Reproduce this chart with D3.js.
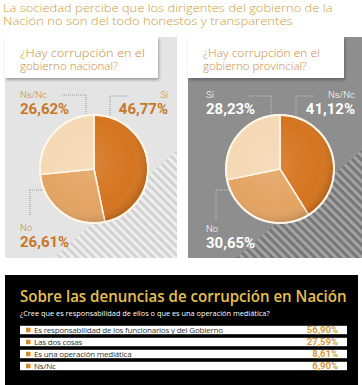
<!DOCTYPE html>
<html lang="es">
<head>
  <meta charset="UTF-8">
  <title>Corrupción en el gobierno</title>
  <script src="https://d3js.org/d3.v7.min.js"></script>
  <style>
    body { margin: 0; background: #fff; }
    text { font-family: "Open Sans", sans-serif; }
  </style>
</head>
<body>
  <svg width="362" height="385"></svg>

  <script>
    // Datos
    const nacionalCats = ["Sí", "No", "Ns/Nc"];
    const nacionalVals = [46.77, 26.61, 26.62];
    const provincialCats = ["Ns/Nc", "No", "Sí"];
    const provincialVals = [41.12, 30.65, 28.23];

    const denunciaCats = [
      "Es responsabilidad de los funcionarios y del Gobierno",
      "Las dos cosas",
      "Es una operación mediática",
      "Ns/Nc"
    ];
    const denunciaVals = [56.90, 27.59, 8.61, 6.90];

    const locale = d3.formatLocale({ decimal: ",", thousands: ".", grouping: [3], currency: ["", "€"] });
    const fmt = v => locale.format(".2f")(v) + "%";

    const sliceColors = ["#d5741f", "#e3a462", "#f5d8b4"];

    const svg = d3.select("svg");
    const defs = svg.append("defs");

    // texto ajustado a un ancho dado (escala horizontal)
    function fitText(parent, x, y, width, txt) {
      const t = parent.append("text").text(txt);
      const w = t.node().getComputedTextLength();
      t.attr("transform", `translate(${x},${y}) scale(${width / w},1)`);
      return t;
    }

    // encabezado
    const head = svg.append("g").attr("fill", "#c99c42")
        .style("font-family", "Lato, sans-serif").style("font-weight", 300).style("font-size", "10.5px");
    fitText(head, 3, 12, 330, "La sociedad percibe que los dirigentes del gobierno de la");
    fitText(head, 3, 25, 290, "Nación no son del todo honestos y transparentes");

    // patrones de rayas
    function stripePattern(id, base, light) {
      const p = defs.append("pattern").attr("id", id)
          .attr("width", 6).attr("height", 6)
          .attr("patternUnits", "userSpaceOnUse")
          .attr("patternTransform", "rotate(-45)");
      p.append("rect").attr("width", 6).attr("height", 6).attr("fill", base);
      p.append("rect").attr("width", 3).attr("height", 6).attr("fill", light);
    }
    stripePattern("rayasClaro", "#d2d2d2", "#eeeeee");
    stripePattern("rayasOscuro", "#777777", "#a3a3a3");

    // sombreado de la torta
    const grad = defs.append("radialGradient").attr("id", "brillo")
        .attr("cx", "45%").attr("cy", "45%").attr("r", "55%");
    grad.append("stop").attr("offset", "0%").attr("stop-color", "#fff").attr("stop-opacity", 0.12);
    grad.append("stop").attr("offset", "75%").attr("stop-color", "#fff").attr("stop-opacity", 0);
    grad.append("stop").attr("offset", "100%").attr("stop-color", "#000").attr("stop-opacity", 0.13);

    const shadow = defs.append("filter").attr("id", "sombra").attr("x", "-10%").attr("y", "-10%")
        .attr("width", "130%").attr("height", "140%");
    shadow.append("feDropShadow").attr("dx", 1).attr("dy", 2).attr("stdDeviation", 1.5)
        .attr("flood-color", "#000").attr("flood-opacity", 0.3);

    const pie = d3.pie().sort(null).value(d => d);
    const arc = d3.arc().innerRadius(0).outerRadius(54);

    const panels = [
      {
        cats: nacionalCats, vals: nacionalVals,
        x: 5, w: 172, bg: "#e4e4e4", stripes: "rayasClaro", boxW: 153,
        question: ["¿Hay corrupción en el", "gobierno nacional?"], qLen: [125, 98],
        cx: 94, labelColor: "#c98a3c", pctColor: "#c8772a",
        labels: [
          { anchor: "end", x: 168, y: 98, line: [[110, 96], [128, 96], [110, 96], [110, 120]] },
          { anchor: "start", x: 20, y: 231, line: [[30, 190], [58, 190], [30, 190], [30, 215]] },
          { anchor: "start", x: 20, y: 98, line: [[62, 95], [86, 95], [86, 95], [86, 133]] }
        ]
      },
      {
        cats: provincialCats, vals: provincialVals,
        x: 188, w: 174, bg: "#8e8e8e", stripes: "rayasOscuro", boxW: 156,
        question: ["¿Hay corrupción en el", "gobierno provincial?"], qLen: [117, 104],
        cx: 280, labelColor: "#ffffff", pctColor: "#ffffff",
        labels: [
          { anchor: "end", x: 355, y: 98, line: [[296, 96], [313, 96], [296, 96], [296, 125]] },
          { anchor: "start", x: 206, y: 232, line: [[216, 190], [243, 190], [216, 190], [216, 220]] },
          { anchor: "start", x: 206, y: 98, line: [[248, 96], [271, 96], [271, 96], [271, 128]] }
        ]
      }
    ];

    const panelTop = 37, panelBottom = 258, pieY = 169;

    panels.forEach((pnl, i) => {
      const g = svg.append("g");
      g.append("rect").attr("x", pnl.x).attr("y", panelTop).attr("width", pnl.w).attr("height", panelBottom - panelTop)
          .attr("fill", pnl.bg);

      // triángulo rayado
      const x1 = pnl.x + pnl.w;
      g.append("path")
          .attr("d", `M${pnl.x + 48},${panelBottom}L${x1},${panelBottom - 108}L${x1},${panelBottom}Z`)
          .attr("fill", `url(#${pnl.stripes})`);

      // caja de la pregunta
      g.append("rect").attr("x", pnl.x).attr("y", panelTop).attr("width", pnl.boxW).attr("height", 41)
          .attr("fill", "#fff").attr("filter", "url(#sombra)");
      const qg = g.append("g").attr("fill", "#c78a3c")
          .style("font-family", "Lato, sans-serif").style("font-weight", 300).style("font-size", "10.5px");
      pnl.question.forEach((q, k) => fitText(qg, pnl.x + 15, 56.5 + k * 13, pnl.qLen[k], q));

      // líneas guía punteadas
      pnl.labels.forEach(l => {
        g.append("path")
            .attr("d", `M${l.line[0]}L${l.line[1]}M${l.line[2]}L${l.line[3]}`)
            .attr("fill", "none").attr("stroke", i === 0 ? "#9a9a9a" : "#c4c4c4")
            .attr("stroke-width", 1).attr("stroke-dasharray", "1,1");
      });

      // torta
      const pg = g.append("g").attr("transform", `translate(${pnl.cx},${pieY})`);
      const arcs = pie(pnl.vals);
      pg.selectAll("path.slice").data(arcs).enter().append("path")
          .attr("class", "slice")
          .attr("d", arc)
          .attr("fill", (d, k) => sliceColors[k])
          .attr("stroke", "#fff6e8").attr("stroke-width", 1.5);
      pg.append("circle").attr("r", 54).attr("fill", "url(#brillo)");
      pg.append("circle").attr("r", 54).attr("fill", "none").attr("stroke", "#fff6e8").attr("stroke-width", 2);

      // etiquetas
      pnl.labels.forEach((l, k) => {
        g.append("text").attr("x", l.x).attr("y", l.y).attr("text-anchor", l.anchor)
            .attr("fill", pnl.labelColor).style("font-family", "Roboto, sans-serif").style("font-weight", 300)
            .style("font-size", "9.5px").text(pnl.cats[k]);
        g.append("text").attr("x", l.x).attr("y", l.y + 16).attr("text-anchor", l.anchor)
            .attr("fill", pnl.pctColor).style("font-family", "Roboto, sans-serif").style("font-weight", 700)
            .style("font-size", "15px").text(fmt(pnl.vals[k]));
      });
    });

    // recuadro inferior
    const b = svg.append("g");
    b.append("rect").attr("x", 5).attr("y", 275).attr("width", 353).attr("height", 110).attr("fill", "#000");
    const bt = b.append("g").attr("fill", "#e6c04e").style("font-weight", 600).style("font-size", "17px");
    fitText(bt, 20, 302, 327, "Sobre las denuncias de corrupción en Nación");
    const bs = b.append("g").attr("fill", "#fff").style("font-size", "7.5px");
    fitText(bs, 20, 316, 250, "¿Cree que es responsabilidad de ellos o que es una operación mediática?");

    const y = d3.scaleBand().domain(denunciaCats).range([324, 372]).paddingInner(0.3).paddingOuter(0.15);

    const rows = b.selectAll("g.row").data(denunciaCats).enter().append("g").attr("class", "row")
        .attr("transform", d => `translate(0,${y(d)})`);
    rows.append("rect").attr("x", 20).attr("width", 327).attr("height", y.bandwidth()).attr("fill", "#fff");
    rows.append("rect").attr("x", 26).attr("y", (y.bandwidth() - 4.5) / 2).attr("width", 4.5).attr("height", 4.5)
        .attr("fill", "#d28a2a");
    rows.append("text").attr("x", 34).attr("y", y.bandwidth() / 2).attr("dy", "0.35em")
        .attr("fill", "#333").style("font-size", "8px").style("letter-spacing", "-0.2px")
        .text(d => d);
    rows.append("text").attr("x", 338).attr("y", y.bandwidth() / 2).attr("dy", "0.36em")
        .attr("text-anchor", "end").attr("fill", "#d39a3c")
        .style("font-family", "Roboto, sans-serif").style("font-weight", 700).style("font-size", "9.5px")
        .text((d, k) => fmt(denunciaVals[k]));
  </script>
</body>
</html>
